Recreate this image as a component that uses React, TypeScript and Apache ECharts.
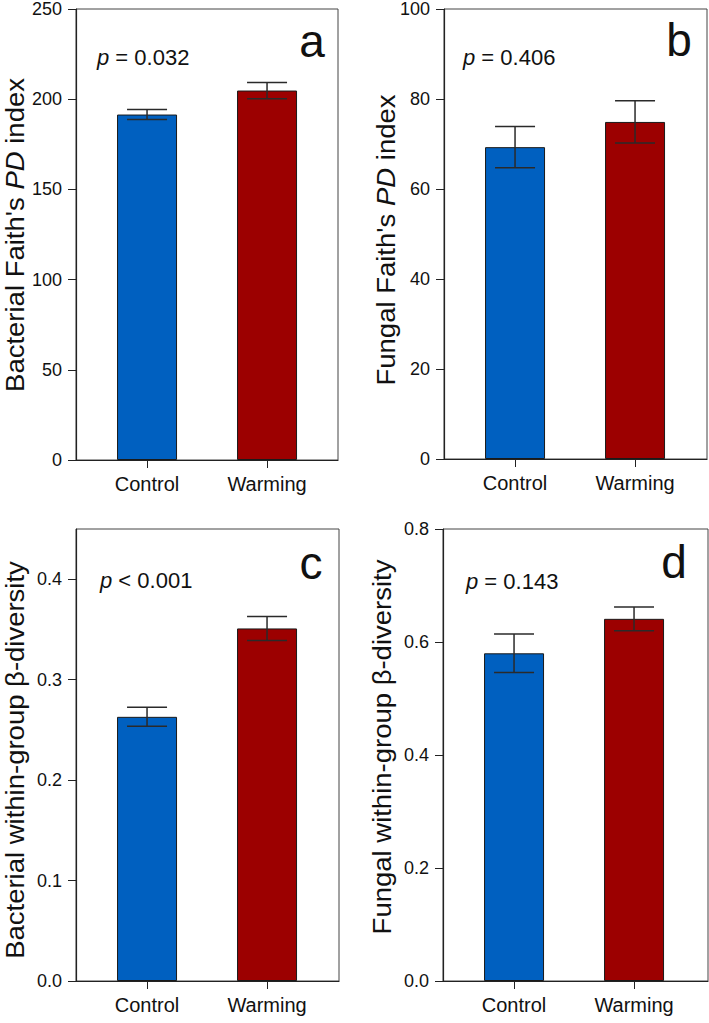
import React, { useEffect, useRef } from "react";
import * as echarts from "echarts";

const categories = ["Control", "Warming"];
const barColors = ["#0060C0", "#9C0000"];

const bactPD = [191.5, 204.8];
const bactPDErr = [2.8, 4.5];
const fungPD = [69.3, 74.9];
const fungPDErr = [4.6, 4.7];
const bactBeta = [0.263, 0.351];
const bactBetaErr = [0.0095, 0.012];
const fungBeta = [0.58, 0.641];
const fungBetaErr = [0.034, 0.021];

const ticksA = [0, 50, 100, 150, 200, 250];
const ticksB = [0, 20, 40, 60, 80, 100];
const ticksC = [0, 0.1, 0.2, 0.3, 0.4];
const ticksD = [0, 0.2, 0.4, 0.6, 0.8];

const pSigns = ["= 0.032", "= 0.406", "< 0.001", "= 0.143"];
const panelLetters = ["a", "b", "c", "d"];
const titleA = ["Bacterial Faith's ", "PD", " index"];
const titleB = ["Fungal Faith's ", "PD", " index"];
const titleC = ["Bacterial within-group β-diversity"];
const titleD = ["Fungal within-group β-diversity"];

const FONT = "'Liberation Sans', Arial, sans-serif";

export default function App() {
  const ref = useRef<HTMLDivElement>(null);
  useEffect(() => {
    if (!ref.current) return;
    const chart = echarts.init(ref.current, undefined, { renderer: "svg" });

    const panels = [
      { grid: { left: 76, top: 7, width: 262, height: 453 }, vals: bactPD, errs: bactPDErr, ticks: ticksA, max: 250, dec: 0, title: titleA, titleX: 15, titleY: 235, p: [97, 57], letter: [312, 41] },
      { grid: { left: 444, top: 7, width: 263, height: 452 }, vals: fungPD, errs: fungPDErr, ticks: ticksB, max: 100, dec: 0, title: titleB, titleX: 386, titleY: 240, p: [463, 57], letter: [679, 40] },
      { grid: { left: 76, top: 529, width: 263, height: 452 }, vals: bactBeta, errs: bactBetaErr, ticks: ticksC, max: 0.45, dec: 1, title: titleC, titleX: 15, titleY: 760, p: [100, 580], letter: [311, 563] },
      { grid: { left: 443, top: 529, width: 265, height: 452 }, vals: fungBeta, errs: fungBetaErr, ticks: ticksD, max: 0.8, dec: 1, title: titleD, titleX: 382, titleY: 747, p: [466, 581], letter: [674, 562] },
    ];

    const grids: any[] = [];
    const xAxes: any[] = [];
    const yAxes: any[] = [];
    const series: any[] = [];
    const graphics: any[] = [];
    const catIdx = categories.map((_, i) => i);

    panels.forEach((pn, k) => {
      grids.push({ ...pn.grid, show: true, borderColor: "#444", borderWidth: 1, containLabel: false });
      const xmin = -0.592;
      const xmax = xmin + pn.grid.width / 120;
      xAxes.push({
        type: "value", gridIndex: k, min: xmin, max: xmax,
        axisLine: { show: true, onZero: false, lineStyle: { color: "#222", width: 1.2 } },
        axisTick: { show: true, length: 8, lineStyle: { color: "#222" }, customValues: catIdx },
        axisLabel: { show: true, margin: 14, fontSize: 20, color: "#111", fontFamily: FONT, customValues: catIdx, formatter: (v: number) => categories[Math.round(v)] ?? "" },
        splitLine: { show: false },
      });
      yAxes.push({
        type: "value", gridIndex: k, min: 0, max: pn.max,
        axisLine: { show: true, onZero: false, lineStyle: { color: "#222", width: 1.2 } },
        axisTick: { show: true, length: 8, lineStyle: { color: "#222" }, customValues: pn.ticks },
        axisLabel: { show: true, margin: 14, fontSize: 18, color: "#111", fontFamily: FONT, customValues: pn.ticks, formatter: (v: number) => v.toFixed(pn.dec) },
        splitLine: { show: false },
      });
      series.push({
        type: "bar", xAxisIndex: k, yAxisIndex: k, barWidth: 60, z: 2,
        data: pn.vals.map((v, i) => ({ value: [i, v], itemStyle: { color: barColors[i], borderColor: "#1a1a1a", borderWidth: 1 } })),
      });
      series.push({
        type: "custom", xAxisIndex: k, yAxisIndex: k, z: 5,
        data: pn.vals.map((v, i) => [i, v - pn.errs[i], v + pn.errs[i]]),
        renderItem: (_params: any, api: any) => {
          const x = api.value(0);
          const lo = api.coord([x, api.value(1)]);
          const hi = api.coord([x, api.value(2)]);
          const half = 20;
          const st = { stroke: "#2a2a2a", lineWidth: 1.5 };
          return {
            type: "group",
            children: [
              { type: "line", shape: { x1: lo[0], y1: lo[1], x2: hi[0], y2: hi[1] }, style: st },
              { type: "line", shape: { x1: hi[0] - half, y1: hi[1], x2: hi[0] + half, y2: hi[1] }, style: st },
              { type: "line", shape: { x1: lo[0] - half, y1: lo[1], x2: lo[0] + half, y2: lo[1] }, style: st },
            ],
          };
        },
      });
      const titleText = pn.title.length === 3 ? `${pn.title[0]}{i|${pn.title[1]}}${pn.title[2]}` : pn.title[0];
      graphics.push({
        type: "text", x: pn.titleX, y: pn.titleY, rotation: Math.PI / 2, scaleX: 1.1, z: 10,
        style: {
          text: titleText, fontSize: 25, fontFamily: FONT, fill: "#111", align: "center", verticalAlign: "middle",
          rich: { i: { fontStyle: "italic", fontSize: 25, fontFamily: FONT, fill: "#111" } },
        },
      });
      graphics.push({
        type: "text", x: pn.p[0], y: pn.p[1], z: 10,
        style: {
          text: `{i|p} ${pSigns[k]}`, fontSize: 22, fontFamily: FONT, fill: "#111", align: "left", verticalAlign: "middle",
          rich: { i: { fontStyle: "italic", fontSize: 22, fontFamily: FONT, fill: "#111" } },
        },
      });
      graphics.push({
        type: "text", x: pn.letter[0], y: pn.letter[1], z: 10,
        style: { text: panelLetters[k], fontSize: 46, fontFamily: FONT, fill: "#111", align: "center", verticalAlign: "middle" },
      });
    });

    chart.setOption({
      animation: false,
      backgroundColor: "#ffffff",
      grid: grids,
      xAxis: xAxes,
      yAxis: yAxes,
      series,
      graphic: graphics,
    });
    return () => chart.dispose();
  }, []);
  return <div ref={ref} style={{ position: "absolute", left: 0, top: 0, width: 709, height: 1023 }} />;
}
